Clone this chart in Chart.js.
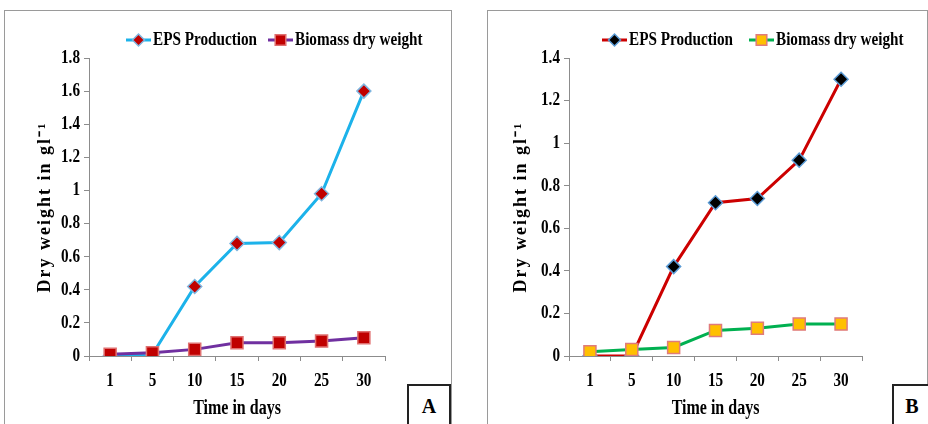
<!DOCTYPE html>
<html>
<head>
<meta charset="utf-8">
<script src="https://cdn.jsdelivr.net/npm/chart.js@4/dist/chart.umd.min.js"></script>
<style>
body { margin: 0; background: #fff; width: 928px; height: 424px; overflow: hidden; position: relative; }
.panel { position: absolute; border: 1.5px solid #9a9a9a; box-sizing: border-box; }
.tag { position: absolute; border: 2px solid #222; background: #fff; box-sizing: border-box;
       font: bold 20px "Liberation Serif", serif; text-align: center; padding-top: 9px; }
canvas { position: absolute; }
</style>
</head>
<body>
<div class="panel" style="left:4px;top:10px;width:448px;height:440px"></div>
<div class="panel" style="left:487px;top:10px;width:441px;height:440px"></div>
<canvas id="chartA" style="left:5px;top:12px"></canvas>
<canvas id="chartB" style="left:488px;top:12px"></canvas>
<div class="tag" style="left:407px;top:384px;width:44px;height:50px">A</div>
<div class="tag" style="left:892px;top:384px;width:40px;height:50px">B</div>
<script>
// Data
const days = ['1', '5', '10', '15', '20', '25', '30'];
const epsA = [0, 0.01, 0.42, 0.68, 0.685, 0.98, 1.60];
const biomassA = [0.01, 0.02, 0.04, 0.08, 0.08, 0.09, 0.11];
const epsB = [0, 0, 0.42, 0.72, 0.74, 0.92, 1.30];
const biomassB = [0.02, 0.03, 0.04, 0.12, 0.13, 0.15, 0.15];
const yMaxA = 1.8;
const yMaxB = 1.4;
const yStep = 0.2;
const seriesNames = ['EPS Production', 'Biomass dry weight'];

const serif = '"Liberation Serif", "Times New Roman", serif';

// the original uses a narrow bold serif, so squeeze every text drawn on the canvas
function condenseText(ctx, factor) {
    const rawFill = ctx.fillText;
    ctx.fillText = function(text, x, y) {
        this.save();
        this.translate(x, y);
        if (String(text).indexOf('Dry') === 0) {
            this.letterSpacing = '2px';
        } else {
            this.scale(factor, 1);
        }
        rawFill.call(this, text, 0, 0);
        this.restore();
    };
}

// legend drawn at the same spot as in the original
const sideLegend = {
    id: 'sideLegend',
    afterDraw(chart, args, opts) {
        const ctx = chart.ctx;
        chart.data.datasets.forEach(function(ds, i) {
            const x = opts.x[i], y = opts.y;
            ctx.save();
            ctx.strokeStyle = ds.borderColor;
            ctx.lineWidth = 3;
            ctx.beginPath();
            ctx.moveTo(x, y);
            ctx.lineTo(x + opts.sample, y);
            ctx.stroke();
            ctx.fillStyle = ds.pointBackgroundColor;
            ctx.strokeStyle = ds.pointBorderColor;
            ctx.lineWidth = ds.pointBorderWidth;
            Chart.helpers.drawPoint(ctx, {
                pointStyle: ds.pointStyle, rotation: 0,
                radius: ds.pointRadius - 1, borderWidth: ds.pointBorderWidth
            }, x + opts.sample / 2, y);
            ctx.fillStyle = '#000';
            ctx.font = 'bold 19px ' + serif;
            ctx.textBaseline = 'middle';
            ctx.textAlign = 'left';
            ctx.fillText(ds.label, x + opts.sample + 2, y);
            ctx.restore();
        });
    }
};

function makeChart(id, w, eps, biomass, yMax, style, box) {
    const canvas = document.getElementById(id);
    canvas.width = w;
    canvas.height = 412;
    condenseText(canvas.getContext('2d'), 0.8);
    return new Chart(canvas, {
        type: 'line',
        data: {
            labels: days,
            datasets: [{
                label: seriesNames[0],
                data: eps,
                borderColor: style.epsLine,
                borderWidth: 3,
                pointStyle: 'rectRot',
                pointRadius: 7,
                pointBackgroundColor: style.epsPoint,
                pointBorderColor: style.epsPointBorder,
                pointBorderWidth: 1.5,
                tension: 0,
                order: 1
            }, {
                label: seriesNames[1],
                data: biomass,
                borderColor: style.bioLine,
                borderWidth: 3,
                pointStyle: 'rect',
                pointRadius: 8.5,
                pointBackgroundColor: style.bioPoint,
                pointBorderColor: style.bioPointBorder,
                pointBorderWidth: 1.5,
                tension: 0,
                order: 0
            }]
        },
        plugins: [sideLegend],
        options: {
            responsive: false,
            animation: false,
            events: [],
            layout: { padding: { left: box.padLeft, right: box.padRight, top: 46, bottom: 0 } },
            plugins: {
                legend: { display: false },
                tooltip: { enabled: false },
                sideLegend: { x: box.legendX, y: 28, sample: 25 }
            },
            scales: {
                x: {
                    offset: true,
                    grid: { offset: true, drawOnChartArea: false, tickLength: 5, color: '#8c8c8c' },
                    border: { color: '#8c8c8c', width: 1 },
                    ticks: { color: '#000', padding: 9, font: { family: serif, size: 19, weight: 'bold' } },
                    title: {
                        display: true, text: 'Time in days', color: '#000',
                        padding: { top: 0, bottom: 3 },
                        font: { family: serif, size: 20, weight: 'bold' }
                    },
                    afterFit: function(scale) { scale.height = 68; }
                },
                y: {
                    min: 0,
                    max: yMax,
                    ticks: {
                        stepSize: yStep, color: '#000', padding: 4,
                        font: { family: serif, size: 19, weight: 'bold' },
                        callback: function(v) { return String(Number(v.toFixed(2))); }
                    },
                    grid: { drawOnChartArea: false, tickLength: 5, color: '#8c8c8c' },
                    border: { color: '#8c8c8c', width: 1 },
                    title: {
                        display: true, text: 'Dry weight in gl\u207B\u00B9', color: '#000',
                        padding: { top: 4, bottom: 0 },
                        font: { family: serif, size: 18, weight: 'bold' }
                    },
                    afterFit: function(scale) { scale.width = box.axisWidth; }
                }
            }
        }
    });
}

makeChart('chartA', 445, epsA, biomassA, yMaxA, {
    epsLine: '#1cb2ea', epsPoint: '#c00000', epsPointBorder: '#7fb6e0',
    bioLine: '#7030a0', bioPoint: '#c00000', bioPointBorder: '#e07070'
}, { padLeft: 26, padRight: 65, axisWidth: 58, legendX: [121, 263] });

makeChart('chartB', 438, epsB, biomassB, yMaxB, {
    epsLine: '#cc0000', epsPoint: '#000000', epsPointBorder: '#5b9bd5',
    bioLine: '#00b050', bioPoint: '#ffc000', bioPointBorder: '#e07b7b'
}, { padLeft: 19, padRight: 64, axisWidth: 62, legendX: [114, 261] });
</script>
</body>
</html>
